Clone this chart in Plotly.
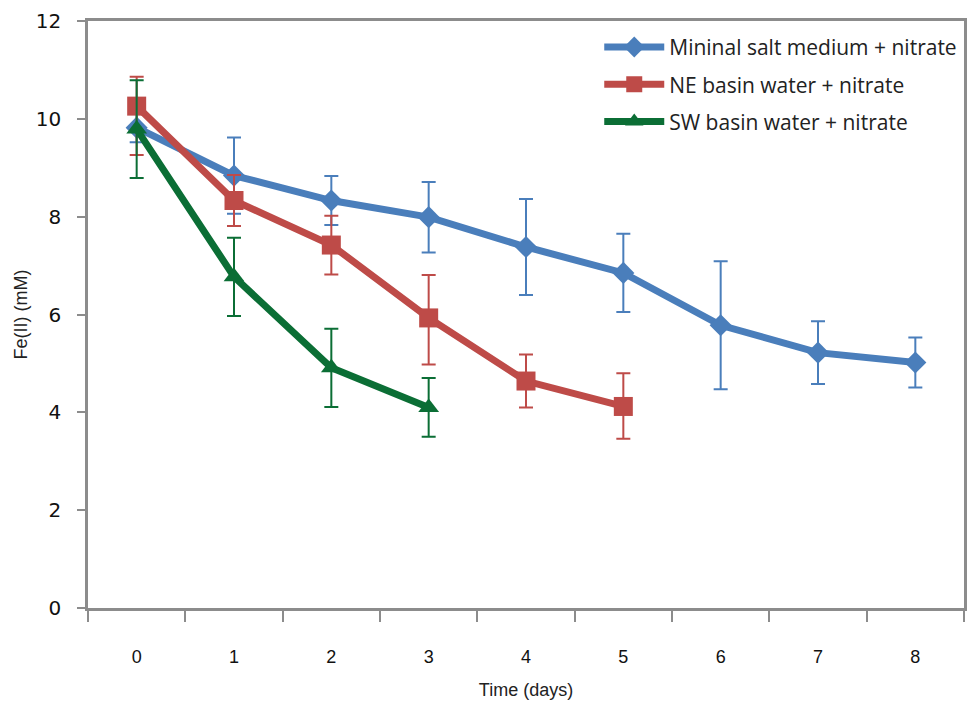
import plotly.graph_objects as go

days = ["0", "1", "2", "3", "4", "5", "6", "7", "8"]

msm_name = "Mininal salt medium + nitrate"
msm_vals = [9.82, 8.84, 8.33, 7.99, 7.38, 6.85, 5.78, 5.22, 5.02]
msm_err = [0.30, 0.78, 0.50, 0.72, 0.98, 0.80, 1.31, 0.64, 0.51]

ne_name = "NE basin water + nitrate"
ne_vals = [10.26, 8.33, 7.42, 5.93, 4.64, 4.12]
ne_err_plus = [0.60, 0.52, 0.60, 0.88, 0.54, 0.68]
ne_err_minus = [1.00, 0.52, 0.60, 0.95, 0.54, 0.66]

sw_name = "SW basin water + nitrate"
sw_vals = [9.79, 6.77, 4.91, 4.10]
sw_err = [1.00, 0.80, 0.80, 0.60]

BLUE = "#4A7EBB"
RED = "#BE4B48"
GREEN = "#0B6E35"
AXIS = "#8C8C8C"

fig = go.Figure()
fig.add_trace(go.Scatter(
    x=days, y=msm_vals, name=msm_name, mode="lines+markers", legendgroup="a",
    line=dict(color=BLUE, width=7),
    marker=dict(symbol="diamond", size=17, color=BLUE),
    error_y=dict(type="data", array=msm_err, color=BLUE, thickness=2, width=7),
))
fig.add_trace(go.Scatter(
    x=days[:len(ne_vals)], y=ne_vals, name=ne_name, mode="lines+markers", legendgroup="b",
    line=dict(color=RED, width=7),
    marker=dict(symbol="square", size=19, color=RED),
    error_y=dict(type="data", array=ne_err_plus, arrayminus=ne_err_minus,
                 symmetric=False, color=RED, thickness=2, width=7),
))
fig.add_trace(go.Scatter(
    x=days[:len(sw_vals)], y=sw_vals, name=sw_name, mode="lines+markers", legendgroup="c",
    line=dict(color=GREEN, width=7),
    marker=dict(symbol="triangle-up", size=18, color=GREEN),
    error_y=dict(type="data", array=sw_err, color=GREEN, thickness=2, width=7),
))

fig.update_layout(
    width=969, height=709,
    margin=dict(l=88, r=2, t=21, b=101),
    paper_bgcolor="white", plot_bgcolor="white",
    showlegend=True,
    legend=dict(
        x=0.998, xanchor="right", y=0.99, yanchor="top",
        font=dict(family="Open Sans", size=21, color="#222222"),
        bgcolor="rgba(0,0,0,0)", tracegroupgap=7, itemwidth=60,
    ),
    xaxis=dict(
        type="category", categoryorder="array", categoryarray=days,
        range=[-0.5, 8.5], tickson="boundaries",
        ticks="outside", ticklen=11, tickwidth=2, tickcolor=AXIS,
        showline=True, linecolor=AXIS, linewidth=2.5, mirror=True,
        showgrid=False, zeroline=False,
        tickfont=dict(family="Liberation Sans", size=18, color="#111111"),
        ticklabelstandoff=31,
        title=dict(text="Time (days)", standoff=18,
                   font=dict(family="Liberation Sans", size=18, color="#222222")),
    ),
    yaxis=dict(
        range=[0, 12], tickvals=[0, 2, 4, 6, 8, 10, 12], ticktext=["0", "2", "4", "6", "8", "10", "12"],
        ticks="outside", ticklen=8, tickwidth=2, tickcolor=AXIS,
        showline=True, linecolor=AXIS, linewidth=2.5, mirror=True,
        showgrid=False, zeroline=False,
        tickfont=dict(family="DejaVu Sans", size=20, color="#111111"),
        ticklabelstandoff=12,
        title=dict(text="Fe(II) (mM)", standoff=4,
                   font=dict(family="Liberation Sans", size=18, color="#222222")),
    ),
)

fig.write_html("out.html")
